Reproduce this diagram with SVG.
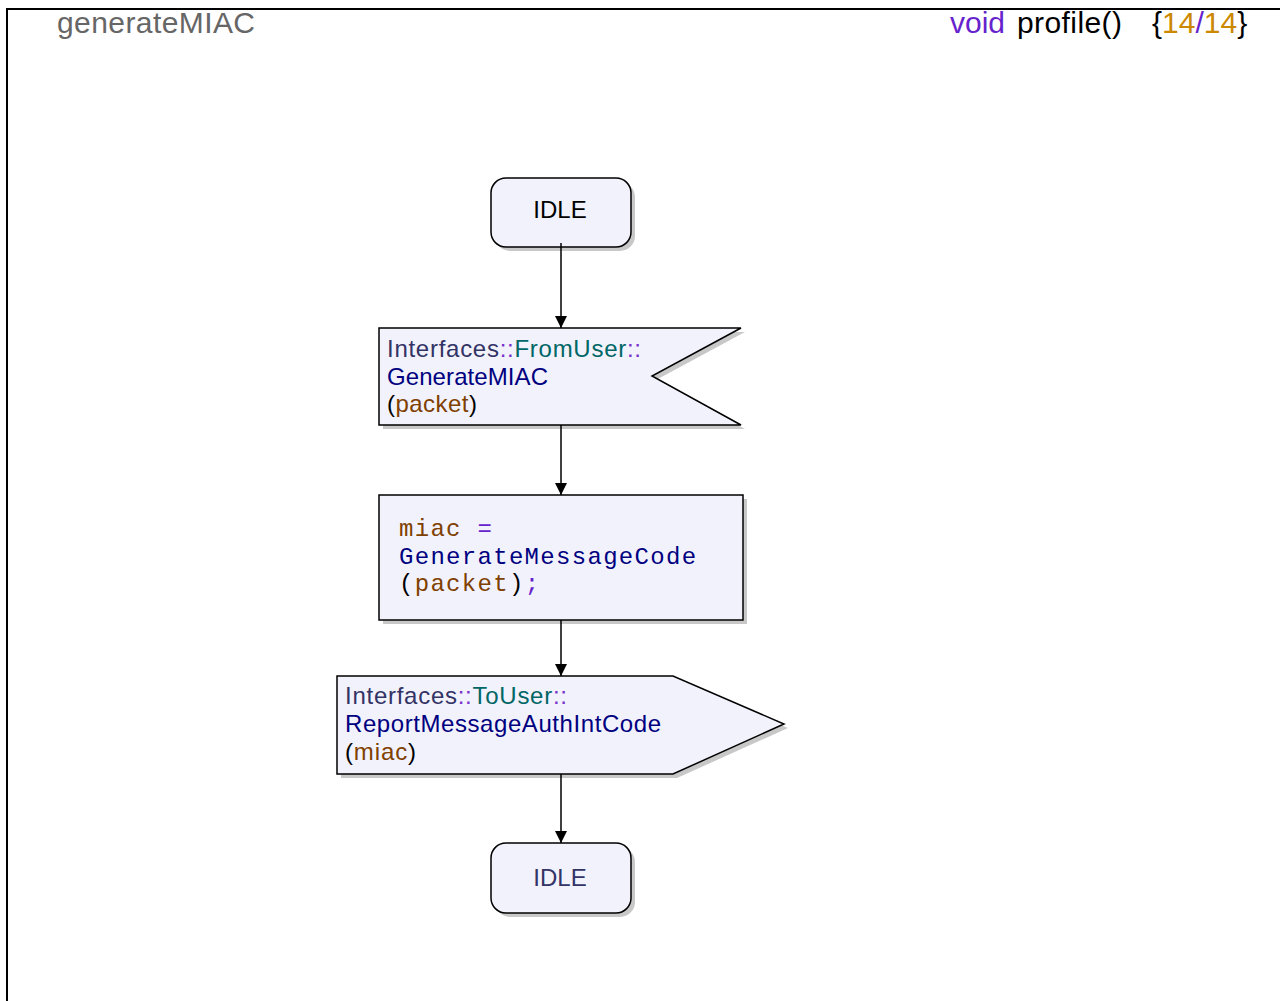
<svg xmlns="http://www.w3.org/2000/svg" width="1280" height="1001" viewBox="0 0 1280 1001">
  <style>
    .shape { fill: #f2f2fc; stroke: #000; stroke-width: 1.5; }
    .shadow { fill: #c8c8c8; }
    .lbl { font-family: "Liberation Sans", Arial, sans-serif; font-size: 24px; }
    .code { font-family: "Liberation Mono", "Courier New", monospace; font-size: 24px; letter-spacing: 1.3px; }
    .hdr { font-family: "Liberation Sans", Arial, sans-serif; font-size: 30px; }
    .edge { stroke: #000; stroke-width: 1.5; fill: none; marker-end: url(#arrow); }
    .kw { fill: #6622cc; }
    .num { fill: #cc8800; }
    .ns { fill: #333366; }
    .sep { fill: #7733cc; }
    .iface { fill: #006666; }
    .sig { fill: #000080; }
    .var { fill: #804000; }
  </style>
  <defs>
    <marker id="arrow" viewBox="0 0 10 10" refX="10" refY="5" markerWidth="12" markerHeight="16" markerUnits="userSpaceOnUse" orient="auto">
      <path d="M0,0 L10,5 L0,10 z" fill="#000"/>
    </marker>
  </defs>

  <rect x="0" y="0" width="1280" height="1001" fill="#fff"/>
  <!-- frame -->
  <path d="M7,1001 L7,9 L1280,9" fill="none" stroke="#000" stroke-width="2"/>

  <!-- header -->
  <text class="hdr" x="57" y="33" fill="#666" textLength="198">generateMIAC</text>
  <text class="hdr" y="33"><tspan class="kw" x="950">void</tspan><tspan x="1017" textLength="105">profile()</tspan><tspan x="1152">{</tspan><tspan class="num">14</tspan><tspan class="kw">/</tspan><tspan class="num">14</tspan><tspan>}</tspan></text>

  <g id="idle-start">
    <rect class="shadow" x="495" y="182" width="140" height="69" rx="15"/>
    <rect class="shape" x="491" y="178" width="140" height="69" rx="15"/>
    <text class="lbl" x="560" y="218" text-anchor="middle" fill="#000" font-size="25">IDLE</text>
  </g>

  <g id="input-generate-miac">
    <polygon class="shadow" points="383,332 745,332 656,380 745,429 383,429"/>
    <polygon class="shape" points="379,328 741,328 652,376 741,425 379,425"/>
    <text class="lbl" x="387" y="357" textLength="254"><tspan class="ns">Interfaces</tspan><tspan class="sep">::</tspan><tspan class="iface">FromUser</tspan><tspan class="sep">::</tspan></text>
    <text class="lbl sig" x="387" y="385" textLength="161">GenerateMIAC</text>
    <text class="lbl" x="387" y="412" textLength="90">(<tspan class="var">packet</tspan>)</text>
  </g>

  <g id="task-generate-code">
    <rect class="shadow" x="383" y="499" width="364" height="125"/>
    <rect class="shape" x="379" y="495" width="364" height="125"/>
    <text class="code" x="399" y="536"><tspan class="var">miac</tspan> <tspan class="kw">=</tspan></text>
    <text class="code sig" x="399" y="564">GenerateMessageCode</text>
    <text class="code" x="399" y="591">(<tspan class="var">packet</tspan>)<tspan class="kw">;</tspan></text>
  </g>

  <g id="output-report-miac">
    <polygon class="shadow" points="341,680 677,680 788,728 677,778 341,778"/>
    <polygon class="shape" points="337,676 673,676 784,724 673,774 337,774"/>
    <text class="lbl" x="345" y="704" textLength="222"><tspan class="ns">Interfaces</tspan><tspan class="sep">::</tspan><tspan class="iface">ToUser</tspan><tspan class="sep">::</tspan></text>
    <text class="lbl sig" x="345" y="732" textLength="316">ReportMessageAuthIntCode</text>
    <text class="lbl" x="345" y="760" textLength="71">(<tspan class="var">miac</tspan>)</text>
  </g>

  <g id="idle-end">
    <rect class="shadow" x="495" y="847" width="140" height="70" rx="15"/>
    <rect class="shape" x="491" y="843" width="140" height="70" rx="15"/>
    <text class="lbl ns" x="560" y="886" text-anchor="middle" font-size="25">IDLE</text>
  </g>

  <!-- connectors, drawn last so the line ends sit on top of the node borders -->
  <g id="connectors">
    <line class="edge" x1="561" y1="243" x2="561" y2="328"/>
    <line class="edge" x1="561" y1="425" x2="561" y2="495"/>
    <line class="edge" x1="561" y1="620" x2="561" y2="676"/>
    <line class="edge" x1="561" y1="774" x2="561" y2="843"/>
  </g>
</svg>
